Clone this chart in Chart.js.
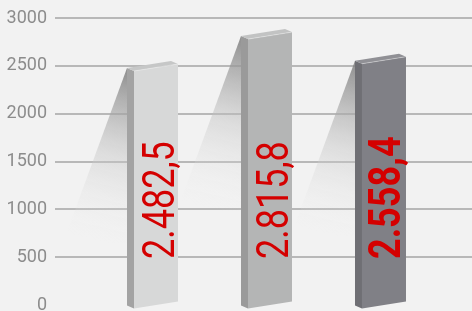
<!DOCTYPE html>
<html>
<head>
<meta charset="utf-8">
<script src="https://cdn.jsdelivr.net/npm/chart.js@4.4.0/dist/chart.umd.min.js"></script>
<style>
  html, body { margin: 0; padding: 0; background: #f2f2f2; }
  #wrap { width: 472px; height: 311px; }
</style>
</head>
<body>
<div id="wrap"><canvas id="barChart"></canvas></div>
<script>
// data
const categories = ['1', '2', '3'];
const values = [2482.5, 2815.8, 2558.4];
const yTicks = [0, 500, 1000, 1500, 2000, 2500, 3000];
const boldLabel = [false, false, true];

// colours per bar (front / side / top face)
const frontColors = ['#d7d8d8', '#b4b5b5', '#808086'];
const sideColors = ['#a3a3a3', '#9a9a9a', '#6f6f74'];
const topColors = ['#c6c7c7', '#c2c3c3', '#909095'];

function formatDE(v) {
    const parts = v.toFixed(1).split('.');
    const intPart = parts[0].replace(/\B(?=(\d{3})+(?!\d))/g, '.');
    return intPart + ',' + parts[1];
}

function poly(ctx, pts, fill) {
    ctx.beginPath();
    ctx.moveTo(pts[0][0], pts[0][1]);
    for (let i = 1; i < pts.length; i++) ctx.lineTo(pts[i][0], pts[i][1]);
    ctx.closePath();
    ctx.fillStyle = fill;
    ctx.fill();
}

// bars are drawn as pseudo-3d blocks from the bar elements' geometry,
// with a reflection wedge on the left and a rotated value label
const bars3d = {
    id: 'bars3d',
    beforeDatasetDraw(chart, args) {
        const ctx = chart.ctx;
        const d = 7, dy = 3, sk = 7;
        const bars = args.meta.data;

        bars.forEach((bar) => {
            const ax = bar.x - bar.width / 2 - d;
            const ay = bar.y + 0.5;
            const g = ctx.createLinearGradient(ax, ay, ax - 40, ay + 170);
            g.addColorStop(0, 'rgba(130,130,130,0.9)');
            g.addColorStop(0.5, 'rgba(195,195,195,0.45)');
            g.addColorStop(1, 'rgba(242,242,242,0)');
            ctx.save();
            poly(ctx, [[ax, ay], [ax - 64, ay + 175], [ax, ay + 175]], g);
            ctx.restore();
        });

        bars.forEach((bar, i) => {
            const L = bar.x - bar.width / 2, R = bar.x + bar.width / 2;
            const yTL = bar.y + sk / 2, yTR = bar.y - sk / 2;
            const yBL = bar.base + sk / 2 + 1, yBR = bar.base - sk / 2 + 1;
            ctx.save();
            poly(ctx, [[L, yTL], [R, yTR], [R, yBR], [L, yBL]], frontColors[i]);
            poly(ctx, [[L - d, yTL - dy], [L, yTL], [L, yBL], [L - d, yBL - dy]], sideColors[i]);
            poly(ctx, [[L - d, yTL - dy], [L, yTL], [R, yTR], [R - d, yTR - dy]], topColors[i]);
            ctx.strokeStyle = 'rgba(255,255,255,0.35)';
            ctx.lineWidth = 1;
            ctx.beginPath();
            ctx.moveTo(L, yTL);
            ctx.lineTo(R, yTR);
            ctx.stroke();

            // value label, rotated and condensed
            ctx.translate(bar.x + (boldLabel[i] ? 16 : 18), bar.base - 45);
            ctx.rotate(-Math.PI / 2);
            ctx.scale(0.8, 1);
            ctx.font = (boldLabel[i] ? 'bold ' : '') + '45px Roboto';
            ctx.fillStyle = '#d40000';
            ctx.textAlign = 'left';
            ctx.textBaseline = 'alphabetic';
            ctx.fillText(formatDE(values[i]), 0, 0);
            ctx.restore();
        });
        return false; // skip the flat default rectangles
    }
};

new Chart(document.getElementById('barChart'), {
    type: 'bar',
    data: {
        labels: categories,
        datasets: [{
            data: values.map((v, i) => ({ x: i, y: v })),
            backgroundColor: frontColors,
            borderWidth: 0,
            barThickness: 44
        }]
    },
    options: {
        responsive: true,
        maintainAspectRatio: false,
        animation: false,
        layout: { padding: { top: 18, bottom: 6, left: 0, right: 0 } },
        plugins: {
            legend: { display: false },
            tooltip: { enabled: false }
        },
        scales: {
            x: {
                type: 'linear',
                display: false,
                offset: false,
                min: -0.886,
                max: 2.772
            },
            y: {
                min: 0,
                max: 3000,
                afterBuildTicks: (scale) => { scale.ticks = yTicks.map(v => ({ value: v })); },
                afterFit: (scale) => {
                    scale.width = 55;
                    scale.paddingTop = 0;
                    scale.paddingBottom = 0;
                },
                border: { display: false },
                grid: {
                    color: (c) => (c.tick && c.tick.value === 0 ? 'rgba(0,0,0,0)' : '#b8b8b8'),
                    lineWidth: 2,
                    drawTicks: false
                },
                ticks: {
                    padding: 8,
                    color: '#8c8c8c',
                    font: { family: "'Liberation Sans Narrow', Roboto", size: 18 },
                    callback: (v) => String(v)
                }
            }
        }
    },
    plugins: [bars3d]
});
</script>
</body>
</html>
